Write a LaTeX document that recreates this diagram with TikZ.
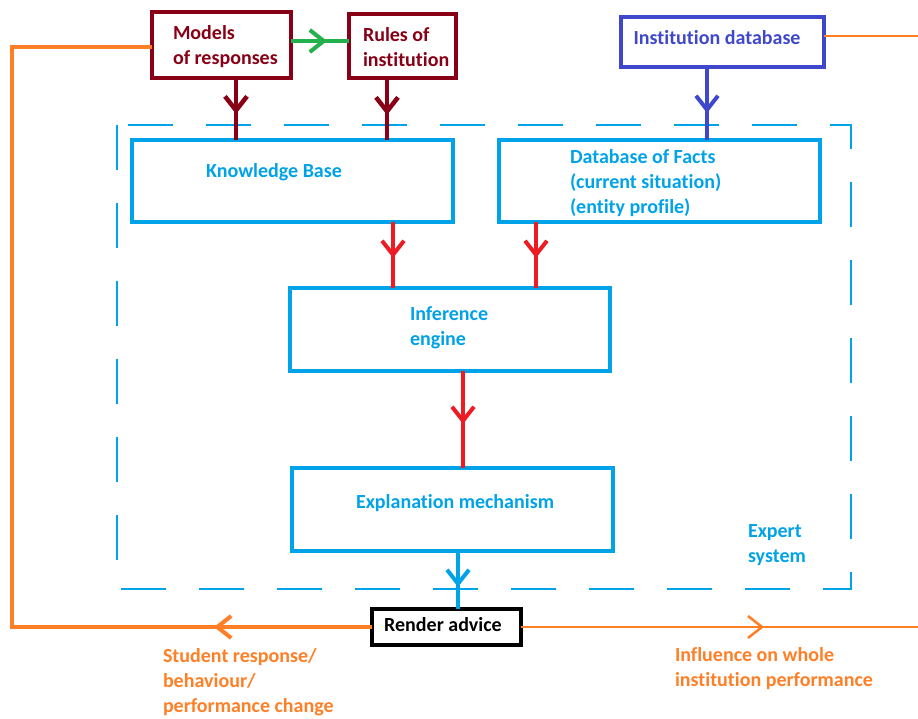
\documentclass[tikz,border=0pt]{standalone}
\usepackage{fontspec}
\setmainfont{Carlito}[Ligatures=NoCommon]
\usetikzlibrary{arrows.meta,decorations.markings}
\definecolor{dred}{HTML}{880015}
\definecolor{pred}{HTML}{ED1C24}
\definecolor{porange}{HTML}{FF7F27}
\definecolor{pgreen}{HTML}{22B14C}
\definecolor{pblue}{HTML}{3F48CC}
\definecolor{pcyan}{HTML}{00A2E8}
\begin{document}
\begin{tikzpicture}[x=1pt,y=-1pt,
  box/.style={draw, rectangle, inner sep=0pt, outer sep=0pt, line width=4.5pt},
  txt/.style={inner sep=0pt, outer sep=0pt, anchor=base west, align=left,
              font=\bfseries\fontsize{20}{25}\selectfont},
  ctxt/.style={txt, anchor=base, align=center},
  barb/.style={postaction={decorate}, decoration={markings,
      mark=at position #1 with {\arrow{Straight Barb[length=14pt,width=22pt]}}}},
  conn/.style={line width=4.5pt}
]
\useasboundingbox (0,0) rectangle (918,719);

% expert system boundary
\draw[pcyan, line width=1.2pt, dash pattern=on 45pt off 33pt] (117,125) rectangle (851,589);

% boxes
\node[box, draw=dred, minimum width=139pt, minimum height=66pt] (models) at (221.5,45) {};
\node[box, draw=dred, minimum width=107pt, minimum height=64pt] (rules) at (402.5,46) {};
\node[box, draw=pblue, line width=4pt, minimum width=203pt, minimum height=50pt] (idb) at (722.5,42) {};
\node[box, draw=pcyan, minimum width=321pt, minimum height=82pt] (kb) at (292.5,181) {};
\node[box, draw=pcyan, minimum width=321pt, minimum height=82pt] (dbf) at (659.5,181) {};
\node[box, draw=pcyan, minimum width=320pt, minimum height=83pt] (inf) at (450,329.5) {};
\node[box, draw=pcyan, minimum width=321pt, minimum height=83pt] (expl) at (452.5,509.5) {};
\node[box, draw=black, line width=4pt, minimum width=149pt, minimum height=36pt] (render) at (446.5,627) {};

% texts (base anchor = baseline of last line)
\node[txt, text=dred] (tmodels) at (173,65) {Models\\of responses};
\node[txt, text=dred] (trules) at (363,67) {Rules of\\institution};
\node[ctxt, text=pblue] (tidb) at (717,45) {Institution database};
\node[ctxt, text=pcyan] (tkb) at (274,178) {Knowledge Base};
\node[txt, text=pcyan] (tdbf) at (570,214) {Database of Facts\\(current situation)\\(entity profile)};
\node[txt, text=pcyan] (tinf) at (410,345) {Inference\\engine};
\node[ctxt, text=pcyan] (texpl) at (455,508) {Explanation mechanism};
\node[ctxt, text=black] (trender) at (443,631) {Render advice};
\node[txt, text=pcyan] (texp) at (748,562) {Expert\\system};
\node[txt, text=porange] (tstud) at (163,712) {Student response/\\behaviour/\\performance change};
\node[txt, text=porange] (tinfl) at (675,686) {Influence on whole\\institution performance};

% free ends
\coordinate (edgeL) at (12,0);
\coordinate (edgeR) at (918,0);

% connectors
\draw[conn, pgreen, line width=4pt, barb=36pt] ([yshift=4pt]models.east) -- ([yshift=4pt]models.east -| rules.west);
\draw[conn, dred, barb=36pt] ([xshift=14.5pt]models.south) -- ([xshift=14.5pt]models.south |- kb.north);
\draw[conn, dred, barb=37pt] ([xshift=-15.5pt]rules.south) -- ([xshift=-15.5pt]rules.south |- kb.north);
\draw[conn, pblue, line width=4pt, barb=46pt] ([xshift=-15.5pt]idb.south) -- ([xshift=-15.5pt]idb.south |- dbf.north);
\draw[conn, pred, line width=4pt, barb=36pt] ([xshift=100.5pt]kb.south) -- ([xshift=100.5pt]kb.south |- inf.north);
\draw[conn, pred, line width=4pt, barb=36pt] ([xshift=-123.5pt]dbf.south) -- ([xshift=-123.5pt]dbf.south |- inf.north);
\draw[conn, pred, line width=4pt, barb=53pt] ([xshift=13pt]inf.south) -- ([xshift=13pt]inf.south |- expl.north);
\draw[conn, pcyan, line width=4pt, barb=36pt] ([xshift=5.5pt]expl.south) -- ([xshift=5.5pt]expl.south |- render.north);
\draw[conn, porange, line width=4pt, barb=158pt] (render.west) -| ([yshift=-2pt]models.west -| edgeL) -- ([yshift=-2pt]models.west);
\draw[conn, porange, line width=2.5pt, barb=243pt] (render.east) -- (render.east -| edgeR);
\draw[conn, porange, line width=2.5pt] ([yshift=6pt]idb.east) -- ([yshift=6pt]idb.east -| edgeR);
\end{tikzpicture}
\end{document}
